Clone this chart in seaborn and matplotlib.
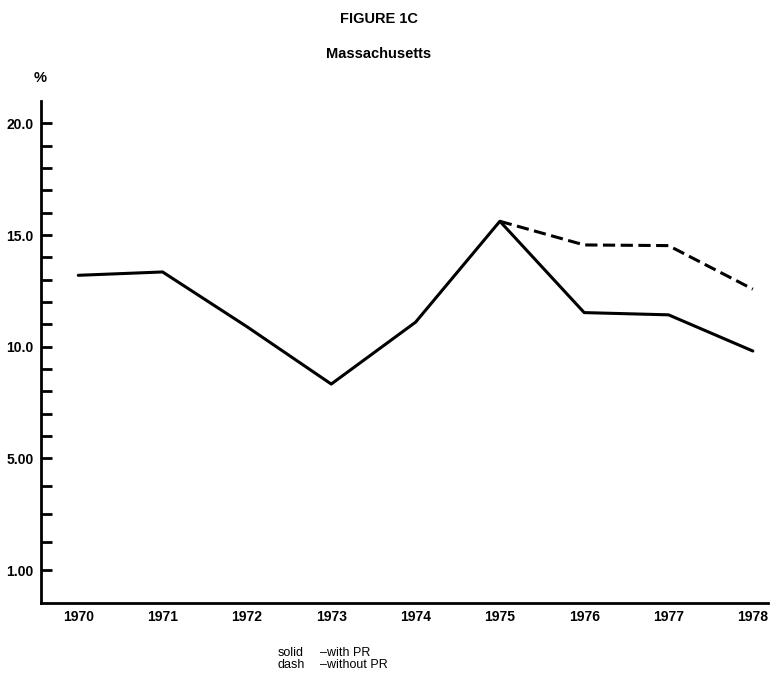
import numpy as np
import pandas as pd
import matplotlib
matplotlib.use('Agg')
import matplotlib.pyplot as plt
import seaborn as sns

# --- Dane ---
years = [1970, 1971, 1972, 1973, 1974, 1975, 1976, 1977, 1978]
with_pr = [13.2, 13.35, 10.9, 8.33, 11.1, 15.62, 11.53, 11.43, 9.81]
years_without = [1975, 1976, 1977, 1978]
without_pr = [15.62, 14.56, 14.53, 12.58]

y_major = [1, 5, 10, 15, 20]
y_major_labels = ['1.00', '5.00', '10.0', '15.0', '20.0']
y_minor = [2, 3, 4, 6, 7, 8, 9, 11, 12, 13, 14, 16, 17, 18, 19]

df = pd.concat([
    pd.DataFrame({'year': years, 'value': with_pr, 'series': 'with PR'}),
    pd.DataFrame({'year': years_without, 'value': without_pr, 'series': 'without PR'}),
])

sns.set_style('ticks')
plt.rcParams['font.family'] = ['Liberation Sans', 'DejaVu Sans']
plt.rcParams['text.color'] = 'black'
plt.rcParams['xtick.color'] = 'black'
plt.rcParams['ytick.color'] = 'black'
plt.rcParams['axes.labelcolor'] = 'black'


# os Y: od 1 do 5 skala scisnieta (jak w oryginale)
def fwd(v):
    v = np.asarray(v, dtype=float)
    return np.where(v >= 5, v, 5 - (5 - v) * 1.25)


def inv(t):
    t = np.asarray(t, dtype=float)
    return np.where(t >= 5, t, 5 - (5 - t) / 1.25)


fig = plt.figure(figsize=(7.76, 6.84), dpi=100)
ax = fig.add_axes([0.0524, 0.118, 0.9373, 0.7348])

sns.lineplot(data=df, x='year', y='value', style='series',
             dashes={'with PR': '', 'without PR': (4, 1.8)},
             color='black', linewidth=2.2, legend=False, ax=ax)

ax.set_yscale('function', functions=(fwd, inv))
ax.set_ylim(-0.19, 21.02)
ax.set_xlim(1969.554, 1978.18)

ax.set_yticks(y_major)
ax.set_yticklabels(y_major_labels)
ax.set_yticks(y_minor, minor=True)
ax.set_xticks(years)
ax.set_xticklabels([str(y) for y in years])

ax.tick_params(axis='y', which='both', direction='in', length=8, width=2,
               pad=5, labelsize=10, color='black', labelcolor='black')
ax.tick_params(axis='x', length=0, pad=5, labelsize=10, labelcolor='black')
for lab in ax.get_xticklabels() + ax.get_yticklabels():
    lab.set_fontweight('bold')

ax.set_xlabel('')
ax.set_ylabel('')
sns.despine(ax=ax)
for side in ['left', 'bottom']:
    ax.spines[side].set_linewidth(2)
    ax.spines[side].set_color('black')

# --- Tytuly i opisy ---
fig.text(379 / 776, 1 - 19 / 684, 'FIGURE 1C', ha='center', va='center',
         fontsize=10.5, fontweight='bold', color='black')
fig.text(379 / 776, 1 - 54 / 684, 'Massachusetts', ha='center', va='center',
         fontsize=10.5, fontweight='bold', color='black')
fig.text(40 / 776, 1 - 78.5 / 684, '%', ha='center', va='center',
         fontsize=10.5, fontweight='bold', color='black')

fig.text(278 / 776, 1 - 659 / 684, 'solid\ndash', ha='left', va='center',
         fontsize=9, linespacing=1.0, color='black')
fig.text(320 / 776, 1 - 659 / 684, '\u2013with PR\n\u2013without PR', ha='left',
         va='center', fontsize=9, linespacing=1.0, color='black')

plt.savefig('out.png', dpi=100)
